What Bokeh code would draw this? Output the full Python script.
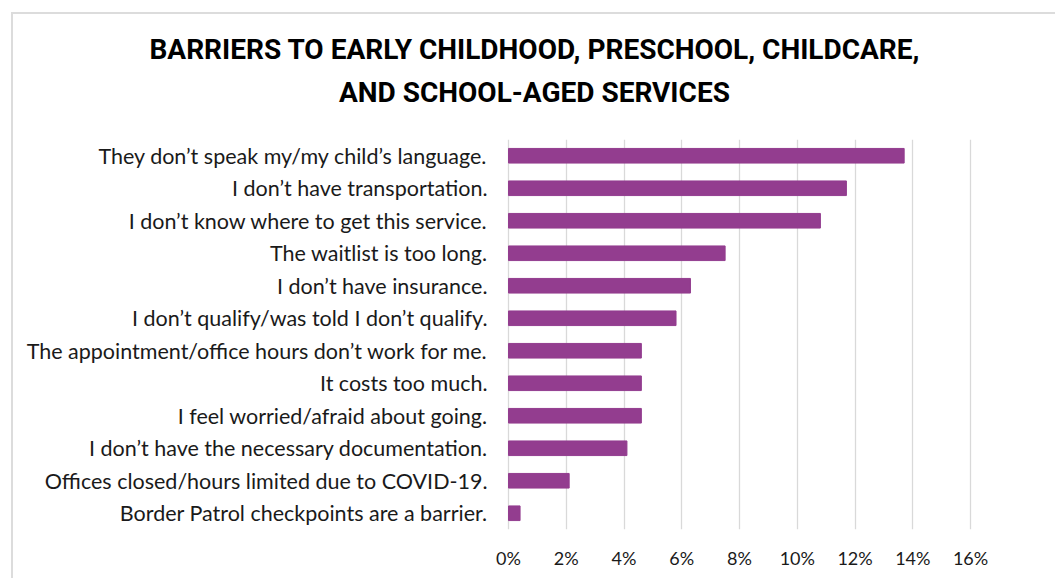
from bokeh.plotting import figure
from bokeh.models import FactorRange, Range1d, FixedTicker, NumeralTickFormatter, Title
from bokeh.embed import file_html
from bokeh.resources import INLINE

categories = [
    "They don’t speak my/my child’s language.",
    "I don’t have transportation.",
    "I don’t know where to get this service.",
    "The waitlist is too long.",
    "I don’t have insurance.",
    "I don’t qualify/was told I don’t qualify.",
    "The appointment/office hours don’t work for me.",
    "It costs too much.",
    "I feel worried/afraid about going.",
    "I don’t have the necessary documentation.",
    "Offices closed/hours limited due to COVID-19.",
    "Border Patrol checkpoints are a barrier.",
]
values = [0.137, 0.117, 0.108, 0.075, 0.063, 0.058, 0.046, 0.046, 0.046, 0.041, 0.021, 0.004]
x_ticks = [0, 0.02, 0.04, 0.06, 0.08, 0.10, 0.12, 0.14, 0.16]
title_line1 = "BARRIERS TO EARLY CHILDHOOD, PRESCHOOL, CHILDCARE,"
title_line2 = "AND SCHOOL-AGED SERVICES"

LABEL_FONT = "Lato"
TITLE_FONT = "Roboto"

p = figure(
    width=1055, height=578,
    y_range=FactorRange(*reversed(categories)),
    x_range=Range1d(-0.0007, 0.1617),
    output_backend="svg", toolbar_location=None,
    min_border_left=506, min_border_right=80, min_border_top=139, min_border_bottom=49,
)
p.title.visible = False
p.outline_line_color = None
p.background_fill_color = "white"
p.border_fill_color = None
p.styles = {
    "background": "linear-gradient(#dcdcdc, #dcdcdc) 11px 12px / 2px 100% no-repeat, "
                  "linear-gradient(#dcdcdc, #dcdcdc) 11px 12px / 100% 2px no-repeat, white",
}

p.hbar(y=categories, right=values, left=0, height=0.45, color="#933D8F")

p.xaxis.ticker = FixedTicker(ticks=x_ticks)
p.xaxis.formatter = NumeralTickFormatter(format="0%")
for ax in (p.xaxis, p.yaxis):
    ax.axis_line_color = None
    ax.major_tick_line_color = None
    ax.minor_tick_line_color = None
    ax.major_tick_out = 0
    ax.major_tick_in = 0
    ax.major_label_text_font = LABEL_FONT
    ax.major_label_text_color = "#1a1a1a"
p.yaxis.major_label_text_font_size = "21.5px"
p.xaxis.major_label_text_font_size = "18px"
p.yaxis.major_label_standoff = 19
p.xaxis.major_label_standoff = 17

p.xgrid.grid_line_color = "#d9d9d9"
p.xgrid.grid_line_width = 1.3
p.ygrid.grid_line_color = None

# spacer between plot area and the two title lines
p.add_layout(Title(text=" ", text_font_size="1px", standoff=24), "above")
p.add_layout(Title(text=title_line2, align="left", offset=-167.5, standoff=8,
                   text_font=TITLE_FONT, text_font_style="bold", text_font_size="28px",
                   text_color="black"), "above")
p.add_layout(Title(text=title_line1, align="left", offset=-357, standoff=8,
                   text_font=TITLE_FONT, text_font_style="bold", text_font_size="28px",
                   text_color="black"), "above")

open("out.html", "w").write(file_html(p, INLINE))
